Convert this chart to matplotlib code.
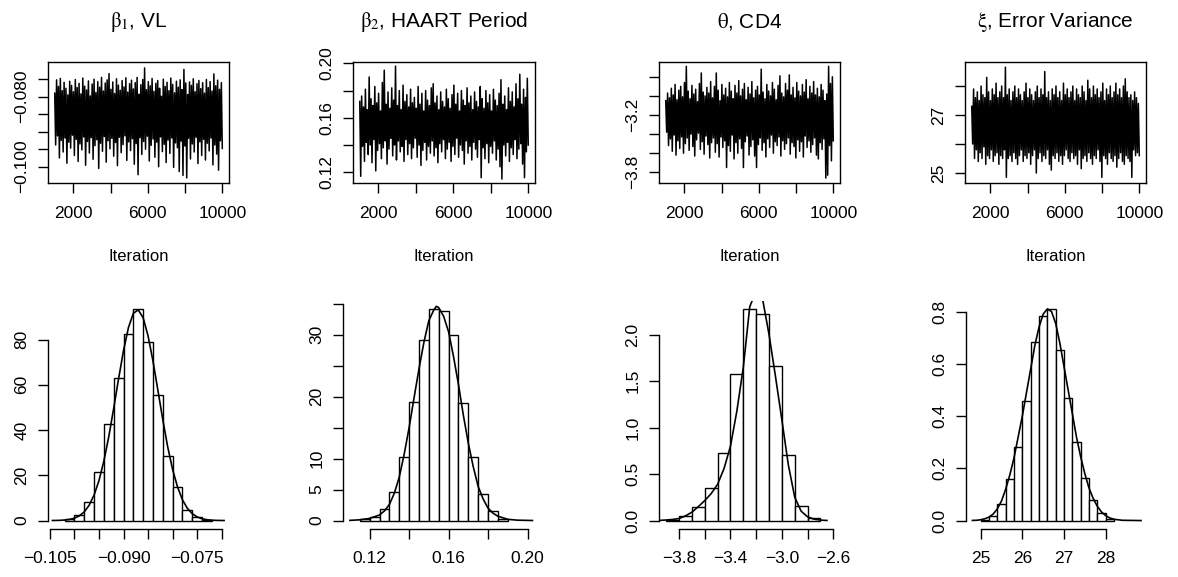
import matplotlib
matplotlib.use('Agg')
import matplotlib.pyplot as plt
import numpy as np

plt.rcParams['font.family'] = ['Liberation Sans', 'DejaVu Sans']
plt.rcParams['mathtext.fontset'] = 'stix'
plt.rcParams['axes.unicode_minus'] = True

W, H = 1178, 577

titles = [r'$\mathrm{\beta}_1$, VL', r'$\mathrm{\beta}_2$, HAART Period',
          r'$\mathrm{\theta}$, CD4', r'$\mathrm{\xi}$, Error Variance']

b1_hi = [-.0790, -.0752, -.0771, -.0748, -.0783, -.0759, -.0776, -.0795, -.0756, -.0768,
         -.0786, -.0751, -.0774, -.0762, -.0792, -.0747, -.0770, -.0781, -.0755, -.0798,
         -.0764, -.0750, -.0788, -.0757, -.0773, -.0745, -.0784, -.0761, -.0752, -.0734,
         -.0779, -.0758, -.0791, -.0749, -.0767, -.0782, -.0754, -.0772, -.0746, -.0787,
         -.0763, -.0753, -.0778, -.0760, -.0745, -.0793, -.0766, -.0751, -.0718, -.0780,
         -.0757, -.0769, -.0748, -.0785, -.0762, -.0754, -.0776, -.0799, -.0750, -.0771,
         -.0759, -.0783, -.0747, -.0765, -.0789, -.0756, -.0773, -.0752, -.0780, -.0722,
         -.0761, -.0794, -.0758, -.0768, -.0749, -.0786, -.0763, -.0754, -.0777, -.0760,
         -.0790, -.0751, -.0774, -.0757, -.0784, -.0735, -.0769, -.0753, -.0779, -.0760]
b1_lo = [-.0938, -.0912, -.0975, -.0925, -.0958, -.0918, -.0990, -.0930, -.0947, -.0910,
         -.0968, -.0922, -.0985, -.0935, -.0952, -.0915, -.0996, -.0928, -.0961, -.0917,
         -.0979, -.0940, -.0923, -.1005, -.0933, -.0956, -.0914, -.0987, -.0926, -.0949,
         -.0919, -.0970, -.0931, -.0997, -.0916, -.0960, -.0937, -.0912, -.0982, -.0929,
         -.0954, -.0920, -.0993, -.0934, -.1023, -.0917, -.0965, -.0928, -.0950, -.0913,
         -.0984, -.0939, -.0921, -.0973, -.0930, -.1000, -.0915, -.0957, -.0936, -.0988,
         -.0924, -.0962, -.0918, -.1002, -.0932, -.0946, -.1014, -.0927, -.1025, -.0941,
         -.1032, -.0919, -.0978, -.0935, -.0958, -.0916, -.0991, -.0929, -.0968, -.0922,
         -.0981, -.0933, -.0955, -.0918, -.0995, -.0938, -.0964, -.1010, -.0926, -.0948]

b2_hi = [.172, .176, .168, .181, .166, .190, .174, .169, .183, .171,
         .178, .165, .186, .195, .170, .179, .167, .182, .173, .198,
         .169, .180, .166, .184, .172, .177, .168, .181, .171, .175,
         .167, .183, .170, .178, .165, .180, .173, .169, .182, .185,
         .171, .176, .166, .179, .172, .168, .181, .174, .167, .177,
         .184, .170, .178, .165, .180, .173, .169, .182, .171, .176,
         .166, .179, .172, .168, .183, .174, .167, .180, .171, .177,
         .165, .181, .173, .169, .178, .188, .170, .176, .166, .182,
         .172, .179, .168, .185, .174, .192, .170, .181, .175, .189]
b2_lo = [.117, .139, .128, .142, .133, .140, .127, .144, .121, .136,
         .141, .130, .138, .143, .126, .137, .145, .132, .140, .129,
         .143, .135, .139, .128, .144, .133, .141, .130, .138, .145,
         .131, .140, .125, .136, .142, .129, .139, .134, .143, .132,
         .138, .127, .141, .135, .144, .130, .137, .142, .128, .139,
         .133, .145, .131, .140, .136, .126, .143, .134, .139, .129,
         .142, .137, .131, .144, .116, .138, .130, .141, .127, .139,
         .134, .143, .129, .137, .124, .115, .140, .132, .142, .128,
         .138, .133, .144, .130, .137, .141, .126, .116, .135, .140]

th_hi = [-3.05, -2.97, -3.02, -2.92, -2.99, -2.88, -3.04, -2.94, -2.90, -3.01,
         -2.86, -2.69, -2.95, -3.03, -2.89, -2.98, -2.93, -3.06, -2.87, -2.76,
         -2.96, -3.00, -2.91, -2.97, -2.85, -3.02, -2.90, -2.76, -2.94, -3.05,
         -2.88, -2.99, -2.92, -3.01, -2.86, -2.95, -3.03, -2.89, -2.97, -2.84,
         -3.00, -2.93, -2.87, -3.04, -2.91, -2.98, -2.85, -3.02, -2.94, -2.90,
         -2.99, -2.72, -2.96, -3.03, -2.88, -2.95, -3.00, -2.86, -2.93, -3.04,
         -2.89, -2.79, -2.97, -3.01, -2.87, -2.94, -2.78, -2.99, -2.91, -3.02,
         -2.86, -2.95, -3.00, -2.88, -2.96, -2.83, -3.03, -2.90, -2.97, -2.85,
         -2.99, -2.92, -3.01, -2.88, -2.94, -3.05, -2.98, -2.69, -2.87, -2.80]
th_lo = [-3.38, -3.52, -3.45, -3.58, -3.41, -3.62, -3.47, -3.55, -3.43, -3.60,
         -3.50, -3.44, -3.57, -3.40, -3.53, -3.63, -3.46, -3.39, -3.56, -3.48,
         -3.61, -3.42, -3.51, -3.65, -3.49, -3.44, -3.59, -3.50, -3.64, -3.43,
         -3.54, -3.47, -3.75, -3.52, -3.58, -3.41, -3.66, -3.49, -3.60, -3.45,
         -3.55, -3.75, -3.48, -3.42, -3.62, -3.53, -3.46, -3.63, -3.75, -3.51,
         -3.44, -3.57, -3.49, -3.64, -3.45, -3.54, -3.41, -3.60, -3.48, -3.52,
         -3.43, -3.63, -3.47, -3.56, -3.50, -3.44, -3.61, -3.49, -3.53, -3.65,
         -3.46, -3.58, -3.48, -3.64, -3.42, -3.54, -3.47, -3.59, -3.51, -3.44,
         -3.62, -3.66, -3.49, -3.56, -3.45, -3.86, -3.83, -3.52, -3.68, -3.47]

xi_hi = [27.3, 27.9, 27.6, 27.8, 27.5, 28.0, 27.7, 27.6, 28.3, 27.8,
         27.5, 27.9, 27.7, 28.1, 27.6, 27.8, 28.0, 27.6, 28.65, 27.7,
         27.9, 27.5, 27.8, 28.0, 27.6, 27.9, 27.7, 27.5, 27.8, 28.1,
         27.6, 27.9, 27.7, 27.5, 27.8, 28.0, 27.6, 27.9, 27.7, 28.5,
         27.6, 27.8, 27.5, 27.9, 27.7, 28.0, 27.6, 27.8, 27.5, 28.1,
         27.7, 27.9, 27.6, 27.8, 28.0, 27.5, 27.9, 27.7, 27.6, 28.0,
         27.8, 27.5, 28.2, 27.9, 27.6, 28.0, 27.7, 27.9, 27.6, 27.8,
         28.1, 27.5, 27.9, 27.7, 28.0, 27.6, 27.8, 28.1, 27.7, 27.9,
         27.6, 28.0, 28.25, 27.8, 27.6, 27.7, 27.5, 27.8, 27.6, 27.4]
xi_lo = [26.0, 25.5, 25.8, 25.4, 25.7, 25.5, 25.9, 25.3, 25.6, 25.5,
         25.8, 25.4, 25.6, 25.7, 25.3, 25.6, 25.5, 25.8, 24.85, 25.5,
         25.6, 25.4, 25.7, 25.5, 25.3, 25.6, 25.8, 25.4, 25.6, 25.5,
         25.7, 25.3, 25.6, 25.8, 25.0, 25.5, 25.7, 25.4, 25.6, 25.5,
         25.8, 25.3, 25.1, 25.6, 25.5, 25.7, 25.4, 25.6, 25.3, 25.6,
         25.8, 25.5, 25.4, 25.7, 25.5, 25.6, 25.3, 25.8, 25.15, 25.5,
         25.6, 25.4, 25.7, 25.5, 25.3, 25.6, 25.5, 25.8, 25.4, 24.85,
         25.6, 25.5, 25.3, 25.7, 25.5, 25.4, 25.6, 25.2, 25.5, 25.7,
         25.4, 25.3, 25.6, 25.5, 25.4, 24.85, 25.8, 25.6, 25.7, 25.6]

# ---- histograms: first break, bin width, densities ----
hist_b1_start, hist_b1_width = -0.102, 0.002
hist_b1 = [0.6, 2.3, 8.4, 21.4, 42.8, 63.0, 82.5, 93.3, 79.0, 55.6, 28.5, 14.8, 4.7, 1.5, 0.3]
hist_b2_start, hist_b2_width = 0.115, 0.005
hist_b2 = [0.2, 0.5, 1.8, 4.6, 10.3, 19.2, 29.1, 34.1, 33.8, 29.9, 19.0, 10.3, 4.3, 1.6, 0.3]
hist_th_start, hist_th_width = -3.9, 0.1
hist_th = [0.01, 0.05, 0.15, 0.345, 0.73, 1.576, 2.27, 2.225, 1.66, 0.71, 0.154, 0.03]
hist_xi_start, hist_xi_width = 25.0, 0.2
hist_xi = [0.003, 0.019, 0.062, 0.158, 0.282, 0.458, 0.683, 0.782, 0.808, 0.654,
           0.47, 0.299, 0.164, 0.079, 0.028, 0.006]

dens_b1_x = [-0.1045, -0.104, -0.103, -0.102, -0.101, -0.100, -0.099, -0.098, -0.097, -0.096,
             -0.095, -0.094, -0.093, -0.092, -0.091, -0.090, -0.089, -0.088, -0.087, -0.086,
             -0.085, -0.084, -0.083, -0.082, -0.081, -0.080, -0.079, -0.078, -0.077, -0.076,
             -0.075, -0.074, -0.073, -0.072, -0.071, -0.0695]
dens_b1_y = [0.03, 0.04, 0.10, 0.23, 0.51, 1.07, 2.09, 3.87, 6.8, 11.3,
             17.7, 26.4, 37.2, 49.7, 62.8, 75.2, 85.3, 91.6, 93.1, 89.6,
             81.6, 70.5, 57.6, 44.6, 32.6, 22.6, 14.9, 9.2, 5.45, 3.05,
             1.61, 0.80, 0.38, 0.17, 0.07, 0.02]
dens_b2_x = [0.110, 0.115, 0.120, 0.125, 0.1275, 0.130, 0.1325, 0.135, 0.1375, 0.140,
             0.1425, 0.145, 0.1475, 0.150, 0.1525, 0.1538, 0.155, 0.1575, 0.160, 0.1625,
             0.165, 0.1675, 0.170, 0.1725, 0.175, 0.1775, 0.180, 0.1825, 0.185, 0.190,
             0.195, 0.2025]
dens_b2_y = [0.03, 0.12, 0.35, 0.9, 1.55, 2.6, 4.4, 7.0, 10.7, 15.0,
             19.8, 24.5, 28.8, 32.3, 34.0, 34.6, 34.4, 33.0, 30.5, 26.5,
             22.0, 17.0, 12.5, 8.7, 5.5, 3.5, 2.0, 1.2, 0.7, 0.2,
             0.06, 0.01]
dens_th_x = [-3.95, -3.9, -3.85, -3.8, -3.75, -3.7, -3.65, -3.6, -3.55, -3.5,
             -3.45, -3.4, -3.35, -3.3, -3.25, -3.2, -3.15, -3.1, -3.05, -3.0,
             -2.95, -2.9, -2.85, -2.8, -2.75, -2.7, -2.65]
dens_th_y = [0.002, 0.006, 0.012, 0.022, 0.05, 0.09, 0.15, 0.215, 0.29, 0.39,
             0.56, 0.8, 1.18, 1.65, 2.3, 2.47, 2.38, 2.0, 1.55, 1.08,
             0.6, 0.25, 0.1, 0.04, 0.015, 0.005, 0.001]
dens_xi_x = [24.8, 24.9, 25.0, 25.1, 25.2, 25.3, 25.4, 25.5, 25.6, 25.7,
             25.8, 25.9, 26.0, 26.1, 26.2, 26.3, 26.4, 26.5, 26.6, 26.7,
             26.8, 26.9, 27.0, 27.1, 27.2, 27.3, 27.4, 27.5, 27.6, 27.7,
             27.8, 27.9, 28.0, 28.1, 28.2, 28.4, 28.85]
dens_xi_y = [0.0005, 0.001, 0.003, 0.007, 0.013, 0.025, 0.045, 0.075, 0.12, 0.175,
             0.24, 0.32, 0.40, 0.49, 0.58, 0.67, 0.74, 0.79, 0.81, 0.80,
             0.755, 0.68, 0.59, 0.50, 0.41, 0.32, 0.245, 0.18, 0.125, 0.085,
             0.055, 0.033, 0.019, 0.010, 0.005, 0.001, 0.0]

M = '\u2212'
traces = [(b1_hi, b1_lo), (b2_hi, b2_lo), (th_hi, th_lo), (xi_hi, xi_lo)]
trace_ylim = [(-0.10466, -0.0701), (0.1121, 0.201), (-3.912, -2.645), (24.655, 28.83)]
trace_yticks = [[-0.100, -0.095, -0.090, -0.085, -0.080, -0.075],
                [0.12, 0.14, 0.16, 0.18, 0.20],
                [-3.8, -3.6, -3.4, -3.2, -3.0, -2.8],
                [25, 26, 27, 28]]
trace_ylabels = [[M + '0.100', '', '', '', M + '0.080', ''],
                 ['0.12', '', '0.16', '', '0.20'],
                 [M + '3.8', '', '', M + '3.2', '', ''],
                 ['25', '', '27', '']]
iter_ticks = [2000, 4000, 6000, 8000, 10000]
iter_labels = ['2000', '', '6000', '', '10000']

hists = [(hist_b1_start, hist_b1_width, hist_b1), (hist_b2_start, hist_b2_width, hist_b2),
         (hist_th_start, hist_th_width, hist_th), (hist_xi_start, hist_xi_width, hist_xi)]
dens = [(dens_b1_x, dens_b1_y), (dens_b2_x, dens_b2_y), (dens_th_x, dens_th_y), (dens_xi_x, dens_xi_y)]
hist_xlim = [(-0.1054, -0.0685), (0.1065, 0.2038), (-3.956, -2.548), (24.647, 28.97)]
hist_xticks = [[-0.105, -0.100, -0.095, -0.090, -0.085, -0.080, -0.075, -0.070],
               [0.12, 0.14, 0.16, 0.18, 0.20],
               [-3.8, -3.6, -3.4, -3.2, -3.0, -2.8, -2.6],
               [25, 26, 27, 28]]
hist_xlabels = [[M + '0.105', '', '', M + '0.090', '', '', M + '0.075', ''],
                ['0.12', '', '0.16', '', '0.20'],
                [M + '3.8', '', M + '3.4', '', M + '3.0', '', M + '2.6'],
                ['25', '26', '27', '28']]
hist_yticks = [[0, 20, 40, 60, 80],
               [0, 5, 10, 15, 20, 25, 30, 35],
               [0.0, 0.5, 1.0, 1.5, 2.0],
               [0.0, 0.2, 0.4, 0.6, 0.8]]
hist_ylabels = [['0', '20', '40', '60', '80'],
                ['0', '5', '10', '', '20', '', '30', ''],
                ['0.0', '0.5', '1.0', '1.5', '2.0'],
                ['0.0', '0.2', '0.4', '0.6', '0.8']]

# pixel boxes (x0, x1)
top_x = [(48, 229), (353, 535), (659, 840), (965, 1146)]
bot_x = [(48, 229), (343, 535), (659, 840), (966, 1146)]
top_y = (62, 183)
bot_y = (301, 529)


def pix_axes(fig, x0, x1, y0, y1):
    return fig.add_axes([x0 / W, 1 - y1 / H, (x1 - x0) / W, (y1 - y0) / H])


fig = plt.figure(figsize=(W / 100, H / 100), dpi=100)

for k in range(4):
    # trace plot: zig-zag through block highs and lows
    ax = pix_axes(fig, top_x[k][0], top_x[k][1], top_y[0], top_y[1])
    hi, lo = traces[k]
    vals = np.column_stack([hi, lo]).ravel()
    it = np.linspace(1001, 10000, len(vals))
    ax.plot(it, vals, color='black', lw=1.1)
    ax.set_xlim(640, 10360)
    ax.set_ylim(*trace_ylim[k])
    ax.set_xticks(iter_ticks, iter_labels)
    ax.set_yticks(trace_yticks[k], trace_ylabels[k])
    for lab in ax.get_yticklabels():
        lab.set_rotation(90)
        lab.set_va('center')
    ax.tick_params(axis='both', direction='out', length=7, width=1, labelsize=12.5)
    ax.tick_params(axis='x', pad=9.5)
    ax.tick_params(axis='y', pad=6.5)
    for s in ax.spines.values():
        s.set_linewidth(1.0)
    ax.set_xlabel('Iteration', fontsize=12, labelpad=20)
    fig.text((top_x[k][0] + top_x[k][1]) / 2 / W, 1 - 27 / H, titles[k],
             ha='center', va='baseline', fontsize=15)

    # histogram with density
    ax = pix_axes(fig, bot_x[k][0], bot_x[k][1], bot_y[0], bot_y[1])
    start, width, heights = hists[k]
    lefts = start + width * np.arange(len(heights))
    ax.bar(lefts, heights, width=width, align='edge', facecolor='white',
           edgecolor='black', linewidth=1.0)
    ax.plot(dens[k][0], dens[k][1], color='black', lw=1.2)
    hmax = max(heights)
    ax.set_xlim(*hist_xlim[k])
    ax.set_ylim(-0.04 * hmax, 1.04 * hmax)
    ax.set_xticks(hist_xticks[k], hist_xlabels[k])
    ax.set_yticks(hist_yticks[k], hist_ylabels[k])
    for lab in ax.get_yticklabels():
        lab.set_rotation(90)
        lab.set_va('center')
    ax.tick_params(axis='both', direction='out', length=7, width=1, labelsize=12.5)
    ax.tick_params(axis='x', pad=9)
    ax.tick_params(axis='y', pad=6.5)
    ax.spines['top'].set_visible(False)
    ax.spines['right'].set_visible(False)
    ax.spines['left'].set_bounds(hist_yticks[k][0], hist_yticks[k][-1])
    ax.spines['bottom'].set_bounds(hist_xticks[k][0], hist_xticks[k][-1])
    for s in ax.spines.values():
        s.set_linewidth(1.0)

fig.savefig('out.png', dpi=100)
